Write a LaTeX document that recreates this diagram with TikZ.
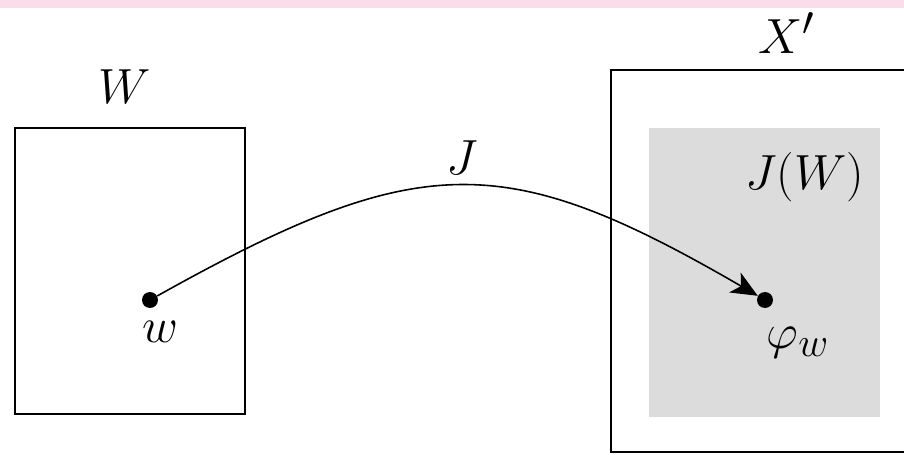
\documentclass[tikz,border=0pt]{standalone}
\usepackage{amsmath,amssymb}
\usepackage{xcolor}
\usetikzlibrary{arrows.meta}
\definecolor{stripe}{RGB}{251,220,234}
\definecolor{imgfill}{RGB}{220,220,220}
\newcommand{\lbl}[1]{\scalebox{1.13}{$#1$}}

\begin{document}
\begin{tikzpicture}[
  x=0.02cm, y=0.02cm,
  font=\Huge,
  lb/.style={inner sep=1pt},
  bx/.style={draw, line width=0.9pt},
  pt/.style={circle, fill, inner sep=0pt, minimum size=0.32cm},
  ar/.style={-{Stealth[length=15pt, width=13pt, inset=4pt]}, line width=0.9pt}
]
\useasboundingbox (0,0) rectangle (904,454);
% top stripe
\fill[stripe] (0,446) rectangle (904,454);
% domain W
\draw[bx] (15,40) rectangle (245,326);
\node[lb] (lW) at (125,367) {\lbl{W}};
% target X' and the image J(W)
\fill[imgfill] (649,37) rectangle (880,326);
\draw[bx] (920,384) -- (611,384) -- (611,2) -- (920,2);
\node[lb] (lX) at (787,421) {\lbl{X'}};
\node[lb] (lJW) at (805,277) {\lbl{J(W)}};
% points
\node[pt] (w) at (150,154) {};
\node[pt] (phi) at (765,154) {};
\node[lb] (lw) at (160,122) {\lbl{w}};
\node[lb] (lphi) at (798,111) {\lbl{\varphi_w}};
% the map J
\draw[ar] (w) .. controls (420,305) and (505,305) .. (phi);
\node[lb] (lJ) at (462,296) {\lbl{J}};
\end{tikzpicture}
\end{document}
